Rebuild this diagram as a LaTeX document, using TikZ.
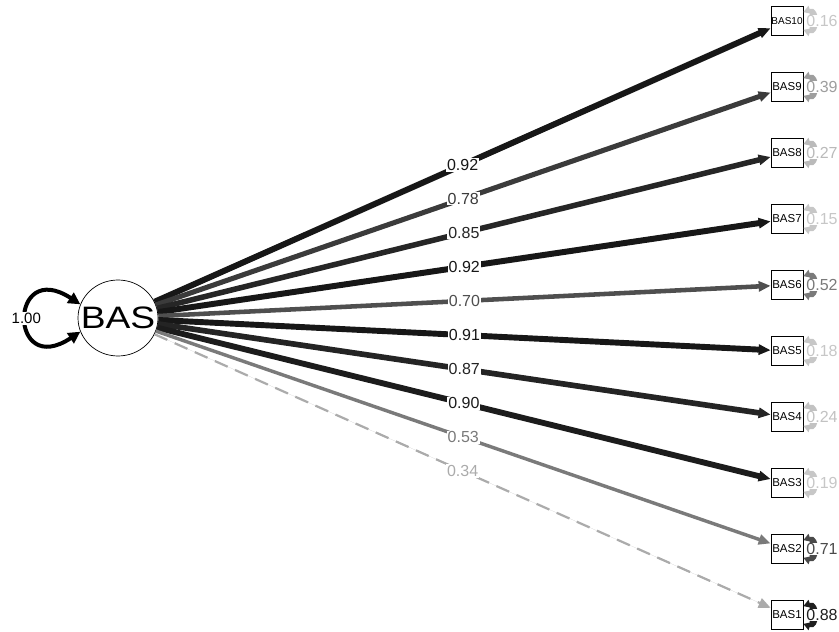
\documentclass[tikz,border=0pt]{standalone}
\usepackage{fontspec}
\setmainfont{Liberation Sans}
\usepackage{tikz}
\usetikzlibrary{
  shapes.geometric,
  arrows.meta,
  positioning
}
\tikzset{
    latent/.style={ellipse, draw, line width=0.7pt, minimum width=80pt, minimum height=76pt, inner sep=0pt, font=\fontsize{31}{31}\selectfont},
    manifest/.style={rectangle, draw, line width=0.7pt, minimum width=32pt, minimum height=29pt, inner sep=0pt, font=\fontsize{11.5}{12}\selectfont},
    loading/.style={-{Triangle[length=12pt,width=10pt]}},
    fixedload/.style={dash pattern=on 14pt off 8pt},
    freeload/.style={},
    estlabel/.style={fill=white, inner sep=1pt, font=\fontsize{16}{16}\selectfont},
    resid/.style={{Triangle[length=7pt,width=8pt]}-{Triangle[length=7pt,width=8pt]}, line width=2pt},
    varloop/.style={{Triangle[length=12pt,width=12pt]}-{Triangle[length=12pt,width=12pt]}, line width=4pt}
}

\begin{document}
\begin{tikzpicture}[x=1pt, y=1pt]
    \useasboundingbox (0,0) rectangle (839,-632);

    % latent factor
    \node[latent] (BAS) at (118,-318) {\makebox[0pt]{\scalebox{1.2}[1]{BAS}}};
    \draw[varloop] (BAS.160) .. controls +(-72,47) and +(-72,-48) .. (BAS.200)
        node[pos=0.5, fill=white, inner sep=1pt, font=\fontsize{15}{15}\selectfont] (varlab) {1.00};

    % indicators, loadings and residuals
    \foreach \i/\lam/\res/\sty in {10/0.92/0.16/freeload, 9/0.78/0.39/freeload, 8/0.85/0.27/freeload,
        7/0.92/0.15/freeload, 6/0.70/0.52/freeload, 5/0.91/0.18/freeload, 4/0.87/0.24/freeload,
        3/0.90/0.19/freeload, 2/0.53/0.71/freeload, 1/0.34/0.88/fixedload} {
        \node[manifest] (BAS\i) at (787,{-21-66*(10-\i)}) {\ifnum\i=10 \fontsize{10}{10}\selectfont\fi BAS\i};
        \pgfmathtruncatemacro\shade{100*\lam}
        \pgfmathsetmacro\lw{6.5*\lam}
        \pgfmathtruncatemacro\rshade{100*max(\res,0.22)}
        \draw[loading, \sty, draw=black!\shade, fill=black!\shade, line width=\lw pt]
            (BAS) -- node[estlabel, text=black!\shade] {\lam} (BAS\i);
        \draw[resid, draw=black!\rshade, fill=black!\rshade]
            ([yshift=-6pt]BAS\i.north east) to[out=20, in=-20, looseness=2.5] ([yshift=6pt]BAS\i.south east);
        \node[estlabel, text=black!\rshade, inner sep=0.5pt] (res\i) at (822,{-21-66*(10-\i)}) {\res};
    }
\end{tikzpicture}
\end{document}
